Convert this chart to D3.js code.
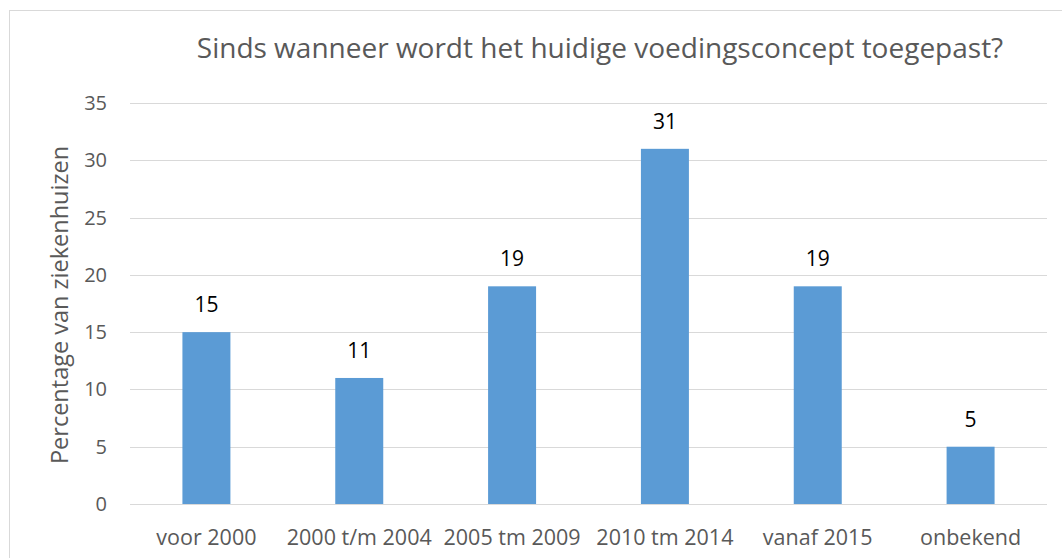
<!DOCTYPE html>
<html>
<head>
<meta charset="utf-8">
<script src="https://cdn.jsdelivr.net/npm/d3@7"></script>
<style>
  body { margin: 0; background: #fff; }
  svg text { font-family: "Open Sans", "Liberation Sans", sans-serif; }
</style>
</head>
<body>
<div id="graph"></div>
<script>
const categories = ["voor 2000", "2000 t/m 2004", "2005 tm 2009", "2010 tm 2014", "vanaf 2015", "onbekend"];
const values = [15, 11, 19, 31, 19, 5];
const yTicks = [0, 5, 10, 15, 20, 25, 30, 35];
const title = "Sinds wanneer wordt het huidige voedingsconcept toegepast?";
const yLabel = "Percentage van ziekenhuizen";

const W = 1062, H = 558;
const plot = { left: 130, right: 1047, top: 103, bottom: 504 };

const svg = d3.select("#graph").append("svg")
  .attr("width", W).attr("height", H);

// chart border
svg.append("rect")
  .attr("x", 9.5).attr("y", 10.5)
  .attr("width", W).attr("height", H)
  .attr("fill", "none").attr("stroke", "#d9d9d9");

const x = d3.scaleBand().domain(categories).range([plot.left, plot.right]).padding(0);
const y = d3.scaleLinear().domain([0, 35]).range([plot.bottom, plot.top]);
const barW = x.bandwidth() * 0.314;

// gridlines
svg.append("g").selectAll("line").data(yTicks).enter().append("line")
  .attr("x1", plot.left).attr("x2", plot.right)
  .attr("y1", d => Math.round(y(d)) + 0.5).attr("y2", d => Math.round(y(d)) + 0.5)
  .attr("stroke", "#d9d9d9").attr("stroke-width", 1);

// y tick labels
svg.append("g").selectAll("text").data(yTicks).enter().append("text")
  .attr("x", 107).attr("y", d => y(d)).attr("dy", "0.35em")
  .attr("text-anchor", "end").attr("font-size", 20).attr("fill", "#595959")
  .text(d => d);

// bars
svg.append("g").selectAll("rect").data(values).enter().append("rect")
  .attr("x", (d, i) => x(categories[i]) + (x.bandwidth() - barW) / 2)
  .attr("y", d => y(d))
  .attr("width", barW)
  .attr("height", d => y(0) - y(d))
  .attr("fill", "#5b9bd5");

// value labels
svg.append("g").selectAll("text").data(values).enter().append("text")
  .attr("x", (d, i) => x(categories[i]) + x.bandwidth() / 2)
  .attr("y", d => y(d) - 20)
  .attr("text-anchor", "middle").attr("font-size", 21).attr("fill", "#000")
  .text(d => d);

// category labels
svg.append("g").selectAll("text").data(categories).enter().append("text")
  .attr("x", d => x(d) + x.bandwidth() / 2)
  .attr("y", 545)
  .attr("text-anchor", "middle").attr("font-size", 21.5).attr("fill", "#595959")
  .text(d => d);

// title
svg.append("text")
  .attr("x", 600).attr("y", 58)
  .attr("text-anchor", "middle").attr("font-size", 28).attr("fill", "#595959")
  .text(title);

// y axis title
svg.append("text")
  .attr("transform", `translate(68, ${(148 + 462) / 2}) rotate(-90)`)
  .attr("text-anchor", "middle").attr("font-size", 23.5).attr("fill", "#595959")
  .text(yLabel);
</script>
</body>
</html>
